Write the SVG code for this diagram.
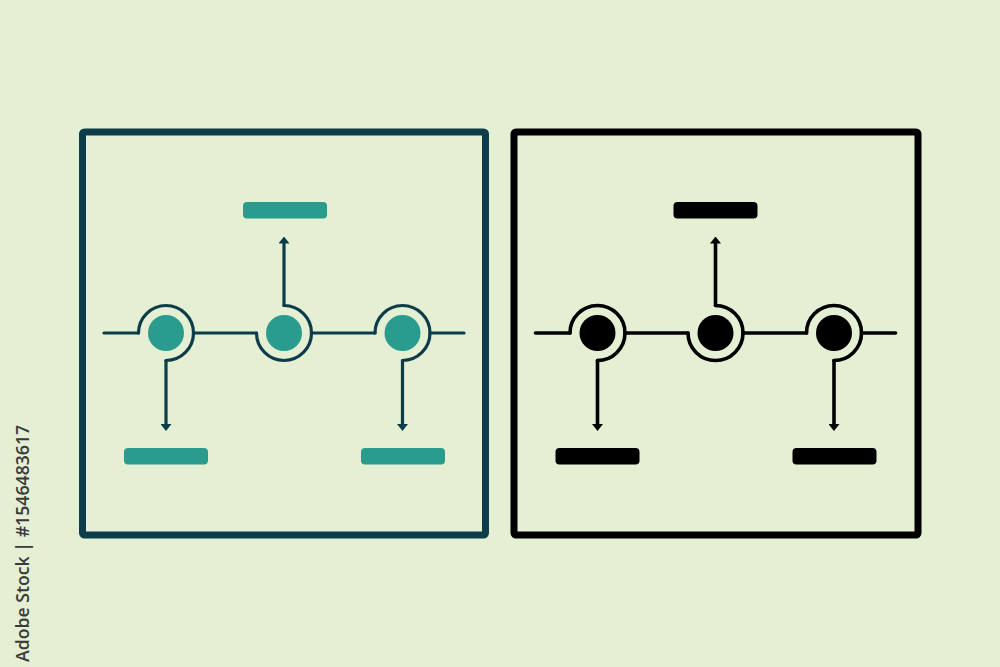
<svg xmlns="http://www.w3.org/2000/svg" width="1000" height="667" viewBox="0 0 1000 667">
  <style>
    .frameT { fill: none; stroke: #0d3c4a; stroke-width: 7; stroke-linejoin: round; }
    .frameK { fill: none; stroke: #000; stroke-width: 7; stroke-linejoin: round; }
    .lnT { fill: none; stroke: #0d3c4a; stroke-width: 3.2; stroke-linecap: round; stroke-linejoin: round; }
    .lnK { fill: none; stroke: #000; stroke-width: 3.6; stroke-linecap: round; stroke-linejoin: round; }
    .dotT { fill: #2a9c8e; }
    .dotK { fill: #000; }
    .barT { fill: #2a9c8e; }
    .barK { fill: #000; }
    .id { font-family: "Open Sans", "Liberation Sans", sans-serif; font-size: 17.7px; font-weight: 600; fill: #3a3a3a; }
  </style>
  <defs>
    <marker id="arrT" viewBox="0 0 7 11" refX="0" refY="5.5" markerWidth="7" markerHeight="11" markerUnits="userSpaceOnUse" orient="auto">
      <path d="M0,0 L7,5.5 L0,11 Z" fill="#0d3c4a"/>
    </marker>
    <marker id="arrK" viewBox="0 0 7 11" refX="0" refY="5.5" markerWidth="7" markerHeight="11" markerUnits="userSpaceOnUse" orient="auto">
      <path d="M0,0 L7,5.5 L0,11 Z" fill="#000"/>
    </marker>
  </defs>
  <rect x="0" y="0" width="1000" height="667" fill="#e4efd3"/>

  <!-- Left (teal) panel -->
  <g id="panel-teal">
    <rect class="frameT" x="82.5" y="132" width="403" height="403" rx="2"/>
    <g id="t-node1">
      <circle class="dotT" cx="166" cy="333" r="18"/>
      <path class="lnT" d="M138.5,333 A27.5,27.5 0 1 1 166,360.5"/>
    </g>
    <g id="t-node2">
      <circle class="dotT" cx="284" cy="333" r="18"/>
      <path class="lnT" d="M256.5,333 A27.5,27.5 0 1 0 284,305.5"/>
    </g>
    <g id="t-node3">
      <circle class="dotT" cx="402.5" cy="333" r="18"/>
      <path class="lnT" d="M375,333 A27.5,27.5 0 1 1 402.5,360.5"/>
    </g>
    <g id="t-bar-top"><rect class="barT" x="243" y="202" width="84" height="16.5" rx="4"/></g>
    <g id="t-bar-left"><rect class="barT" x="124" y="448" width="84" height="16.5" rx="4"/></g>
    <g id="t-bar-right"><rect class="barT" x="361" y="448" width="84" height="16.5" rx="4"/></g>
    <g id="t-connectors">
      <path class="lnT" d="M104,333 H138.5"/>
      <path class="lnT" d="M193.5,333 H256.5"/>
      <path class="lnT" d="M311.5,333 H375"/>
      <path class="lnT" d="M430,333 H464"/>
      <path class="lnT" d="M166,360.5 V424" marker-end="url(#arrT)"/>
      <path class="lnT" d="M284,305.5 V243.5" marker-end="url(#arrT)"/>
      <path class="lnT" d="M402.5,360.5 V424" marker-end="url(#arrT)"/>
    </g>
  </g>

  <!-- Right (black) panel -->
  <g id="panel-black">
    <rect class="frameK" x="514" y="132" width="404" height="403" rx="2"/>
    <g transform="translate(431.5,0)">
      <g id="k-node1">
        <circle class="dotK" cx="166" cy="333" r="18"/>
        <path class="lnK" d="M138.5,333 A27.5,27.5 0 1 1 166,360.5"/>
      </g>
      <g id="k-node2">
        <circle class="dotK" cx="284" cy="333" r="18"/>
        <path class="lnK" d="M256.5,333 A27.5,27.5 0 1 0 284,305.5"/>
      </g>
      <g id="k-node3">
        <circle class="dotK" cx="402.5" cy="333" r="18"/>
        <path class="lnK" d="M375,333 A27.5,27.5 0 1 1 402.5,360.5"/>
      </g>
      <g id="k-bar-top"><rect class="barK" x="242" y="202" width="84" height="16.5" rx="4"/></g>
      <g id="k-bar-left"><rect class="barK" x="124" y="448" width="84" height="16.5" rx="4"/></g>
      <g id="k-bar-right"><rect class="barK" x="361" y="448" width="84" height="16.5" rx="4"/></g>
      <g id="k-connectors">
        <path class="lnK" d="M104,333 H138.5"/>
        <path class="lnK" d="M193.5,333 H256.5"/>
        <path class="lnK" d="M311.5,333 H375"/>
        <path class="lnK" d="M430,333 H464"/>
        <path class="lnK" d="M166,360.5 V424" marker-end="url(#arrK)"/>
        <path class="lnK" d="M284,305.5 V243.5" marker-end="url(#arrK)"/>
        <path class="lnK" d="M402.5,360.5 V424" marker-end="url(#arrK)"/>
      </g>
    </g>
  </g>

  <text class="id" transform="translate(28.5,662) rotate(-90)">Adobe Stock | #1546483617</text>
</svg>
